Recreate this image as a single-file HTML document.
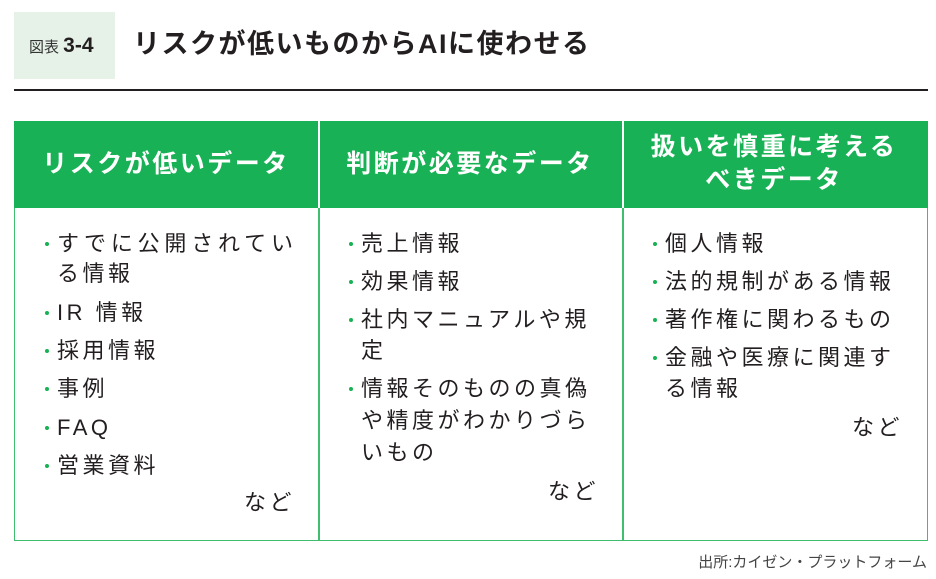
<!DOCTYPE html>
<html><head><meta charset="utf-8"><style>
body{margin:0;width:936px;height:579px;background:#fff;position:relative;overflow:hidden;font-family:"Liberation Sans","Noto Sans CJK JP",sans-serif;color:#231f20}
.a{position:absolute;white-space:nowrap;line-height:1}
.t{font-size:22px;letter-spacing:3.5px}
.h{font-size:25px;font-weight:bold;color:#fff;letter-spacing:2.5px;text-align:center;width:300px}
.b{position:absolute;width:4px;height:4px;border-radius:50%;background:#18b155}
</style></head><body>
<div class="a" style="left:14px;top:12px;width:101px;height:67px;background:#e6f2e7"></div>
<div class="a" style="left:29px;top:35px;font-size:15px;color:#333">図表 <b style="font-size:21px;color:#231f20">3-4</b></div>
<div class="a" style="left:133px;top:31px;font-size:27px;font-weight:bold;letter-spacing:1.5px">リスクが低いものからAIに使わせる</div>
<div class="a" style="left:14px;top:89px;width:914px;height:1.5px;background:#231f20"></div>

<div class="a" style="left:14px;top:121px;width:912px;height:418px;border:1.5px solid #3fbf6e"></div>
<div class="a" style="left:14px;top:121px;width:914px;height:87px;background:#18b155"></div>
<div class="a" style="left:318px;top:121px;width:1.5px;height:87px;background:#fff"></div>
<div class="a" style="left:622px;top:121px;width:1.5px;height:87px;background:#fff"></div>
<div class="a" style="left:318px;top:208px;width:1.5px;height:332px;background:#3fbf6e"></div>
<div class="a" style="left:622px;top:208px;width:1.5px;height:332px;background:#3fbf6e"></div>

<div class="a h" style="left:16px;top:152px">リスクが低いデータ</div>
<div class="a h" style="left:320px;top:152px">判断が必要なデータ</div>
<div class="a h" style="left:624px;top:135px">扱いを慎重に考える</div>
<div class="a h" style="left:624px;top:168px">べきデータ</div>

<!-- col1 -->
<span class="b" style="left:45px;top:242px"></span><div class="a t" style="left:57px;top:233px;letter-spacing:4.8px">すでに公開されてい</div>
<div class="a t" style="left:57px;top:263px">る情報</div>
<span class="b" style="left:45px;top:311px"></span><div class="a t" style="left:57px;top:302px">IR 情報</div>
<span class="b" style="left:45px;top:349px"></span><div class="a t" style="left:57px;top:340px">採用情報</div>
<span class="b" style="left:45px;top:387px"></span><div class="a t" style="left:57px;top:378px">事例</div>
<span class="b" style="left:45px;top:426px"></span><div class="a t" style="left:57px;top:417px">FAQ</div>
<span class="b" style="left:45px;top:464px"></span><div class="a t" style="left:57px;top:455px">営業資料</div>
<div class="a t" style="left:244px;top:492px">など</div>

<!-- col2 -->
<span class="b" style="left:349px;top:242px"></span><div class="a t" style="left:361px;top:233px">売上情報</div>
<span class="b" style="left:349px;top:280px"></span><div class="a t" style="left:361px;top:271px">効果情報</div>
<span class="b" style="left:349px;top:318px"></span><div class="a t" style="left:361px;top:309px">社内マニュアルや規</div>
<div class="a t" style="left:361px;top:340px">定</div>
<span class="b" style="left:349px;top:387px"></span><div class="a t" style="left:361px;top:378px">情報そのものの真偽</div>
<div class="a t" style="left:361px;top:410px">や精度がわかりづら</div>
<div class="a t" style="left:361px;top:442px">いもの</div>
<div class="a t" style="left:548px;top:481px">など</div>

<!-- col3 -->
<span class="b" style="left:653px;top:242px"></span><div class="a t" style="left:665px;top:233px">個人情報</div>
<span class="b" style="left:653px;top:280px"></span><div class="a t" style="left:665px;top:271px">法的規制がある情報</div>
<span class="b" style="left:653px;top:318px"></span><div class="a t" style="left:665px;top:309px">著作権に関わるもの</div>
<span class="b" style="left:653px;top:356px"></span><div class="a t" style="left:665px;top:347px">金融や医療に関連す</div>
<div class="a t" style="left:665px;top:378px">る情報</div>
<div class="a t" style="left:852px;top:417px">など</div>

<div class="a" style="right:9px;top:555px;font-size:15px;color:#444">出所:カイゼン・プラットフォーム</div>
</body></html>
